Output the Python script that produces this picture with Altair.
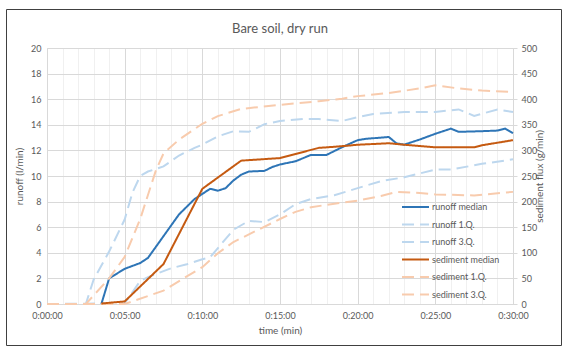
import altair as alt
import pandas as pd

# ---- data (time in minutes) ----
runoff_median_t = [3.5, 4.0, 5.0, 6.0, 6.5, 7.5, 8.5, 9.5, 10.0, 10.5, 11.0, 11.5, 12.0, 12.5, 13.0,
                   14.0, 14.5, 15.0, 16.0, 17.0, 18.0, 19.0, 20.0, 20.5, 22.0, 22.5, 23.0, 24.0,
                   25.0, 26.0, 26.5, 28.0, 29.0, 29.5, 30.0]
runoff_median_v = [0.0, 2.0, 2.75, 3.2, 3.6, 5.3, 7.0, 8.2, 8.6, 9.0, 8.85, 9.05, 9.65, 10.1, 10.35,
                   10.4, 10.7, 10.9, 11.15, 11.65, 11.65, 12.25, 12.8, 12.9, 13.05, 12.55, 12.45, 12.85,
                   13.3, 13.7, 13.45, 13.5, 13.55, 13.7, 13.35]

runoff_q1_t = [0.0, 5.0, 6.0, 6.5, 8.0, 9.0, 10.0, 10.5, 12.0, 13.0, 14.0, 15.0, 16.0, 17.0, 18.5,
               20.0, 21.5, 23.0, 25.0, 26.0, 28.0, 30.0]
runoff_q1_v = [0.0, 0.05, 1.8, 2.1, 2.8, 3.1, 3.5, 3.65, 5.8, 6.5, 6.4, 7.0, 7.8, 8.2, 8.5,
               9.05, 9.6, 9.9, 10.5, 10.5, 10.95, 11.3]

runoff_q3_t = [0.0, 2.5, 3.0, 4.0, 5.0, 5.5, 6.0, 6.5, 7.0, 7.5, 8.5, 9.5, 10.0, 11.0, 12.0, 13.0,
               14.0, 15.0, 16.5, 17.5, 19.0, 20.0, 21.0, 23.0, 25.0, 26.5, 27.5, 29.0, 30.0]
runoff_q3_v = [0.0, 0.0, 1.9, 4.1, 6.6, 8.7, 10.0, 10.35, 10.55, 10.75, 11.6, 12.2, 12.45, 13.1, 13.5, 13.45,
               14.05, 14.3, 14.45, 14.45, 14.3, 14.6, 14.85, 15.0, 15.0, 15.2, 14.7, 15.2, 15.0]

sed_median_t = [3.5, 5.0, 7.5, 10.0, 12.5, 15.0, 16.0, 17.5, 18.5, 20.0, 22.0, 23.0, 25.0, 27.5, 28.0, 30.0]
sed_median_v = [1, 5, 78, 225, 280, 285, 293, 305, 307, 311, 314, 311, 306, 306, 310, 320]

sed_q1_t = [0.0, 5.0, 7.5, 9.0, 10.0, 11.0, 12.0, 13.0, 15.0, 16.0, 17.0, 18.5, 20.0, 21.5, 22.5,
            24.0, 25.0, 27.5, 30.0]
sed_q1_v = [0, 0, 26, 54, 72, 99, 121, 136, 166, 180, 189, 196, 202, 211, 219, 217, 214, 212, 219]

sed_q3_t = [0.0, 2.5, 4.0, 5.0, 6.0, 7.0, 7.5, 8.5, 10.0, 11.0, 12.5, 15.0, 17.5, 19.0, 20.0, 22.0,
            24.0, 25.0, 26.5, 28.0, 30.0]
sed_q3_v = [0, 0, 50, 92, 166, 260, 294, 321, 352, 367, 381, 389, 396, 401, 406, 412,
            421, 427, 421, 417, 414]

names = ["runoff median", "runoff 1.Q.", "runoff 3.Q.", "sediment median", "sediment 1.Q.", "sediment 3.Q."]
colors = ["#2E75B6", "#BDD7EE", "#BDD7EE", "#C55A11", "#F8CBAD", "#F8CBAD"]
dashes = [[1, 0], [12, 6], [12, 6], [1, 0], [12, 6], [12, 6]]

x_major_ticks = [0, 5, 10, 15, 20, 25, 30]
x_minor_ticks = [m for m in range(1, 30) if m % 5 != 0]
y_left_ticks = list(range(0, 21, 2))
y_right_ticks = list(range(0, 501, 50))


def frame(name, ts, vs):
    return pd.DataFrame({"t": ts, "value": vs, "series": name})


runoff_med = frame(names[0], runoff_median_t, runoff_median_v)
runoff_q = pd.concat([frame(names[1], runoff_q1_t, runoff_q1_v), frame(names[2], runoff_q3_t, runoff_q3_v)])
sed_med = frame(names[3], sed_median_t, sed_median_v)
sed_q = pd.concat([frame(names[4], sed_q1_t, sed_q1_v), frame(names[5], sed_q3_t, sed_q3_v)])

FONT = "Lato"
GREY = "#595959"
xscale = alt.Scale(domain=[0, 30], nice=False, zero=True)

legend = alt.Legend(orient="none", legendX=354, legendY=153, title=None, symbolType="stroke",
                    symbolSize=729, symbolStrokeWidth=2, labelFont=FONT, labelFontSize=9,
                    labelColor=GREY, rowPadding=5.5, clipHeight=12, labelOffset=2)
color = alt.Color("series:N", scale=alt.Scale(domain=names, range=colors), legend=legend)
dash = alt.StrokeDash("series:N", scale=alt.Scale(domain=names, range=dashes), legend=legend)

x_major = alt.X("t:Q", scale=xscale,
                axis=alt.Axis(values=x_major_ticks,
                              labelExpr="'0:' + (datum.value < 10 ? '0' : '') + datum.value + ':00'",
                              title="time (min)", grid=True, gridColor="#d9d9d9", domain=False,
                              ticks=False, labelFlush=False, labelFont=FONT, labelFontSize=9,
                              labelColor=GREY, labelPadding=7, titleFont=FONT, titleFontSize=10,
                              titleColor=GREY, titleFontWeight="normal", titlePadding=5))
x_minor = alt.X("t:Q", scale=xscale,
                axis=alt.Axis(orient="top", values=x_minor_ticks, labels=False, ticks=False,
                              domain=False, grid=True, gridColor="#f0f0f0", title=None))

y_left = alt.Y("value:Q", scale=alt.Scale(domain=[0, 20], nice=False),
               axis=alt.Axis(values=y_left_ticks, grid=True, gridColor="#d9d9d9", domain=False,
                             ticks=False, labelFont=FONT, labelFontSize=9, labelColor=GREY,
                             labelPadding=6, title="runoff (l/min)", titleFont=FONT,
                             titleFontSize=10, titleColor=GREY, titleFontWeight="normal",
                             titlePadding=6))
y_right = alt.Y("value:Q", scale=alt.Scale(domain=[0, 500], nice=False),
                axis=alt.Axis(orient="right", values=y_right_ticks, grid=False, domain=True,
                              domainColor="#d9d9d9", ticks=True, tickSize=4, tickColor="#d9d9d9",
                              labelFont=FONT, labelFontSize=9, labelColor=GREY, labelPadding=4,
                              title="sediment flux (g/min)", titleAngle=270, titleFont=FONT,
                              titleFontSize=10, titleColor=GREY, titleFontWeight="normal",
                              titlePadding=8))

enc_r = dict(x=x_major, y=y_left, color=color, strokeDash=dash, detail="series:N")
enc_s = dict(x=x_minor, y=y_right, color=color, strokeDash=dash, detail="series:N")

runoff = alt.layer(
    alt.Chart(runoff_q).mark_line(strokeWidth=2).encode(**enc_r),
    alt.Chart(runoff_med).mark_line(strokeWidth=2).encode(**enc_r),
)
sediment = alt.layer(
    alt.Chart(sed_q).mark_line(strokeWidth=2).encode(**enc_s),
    alt.Chart(sed_med).mark_line(strokeWidth=2).encode(**enc_s),
)

border = alt.Chart(pd.DataFrame({"a": [0]})).mark_rect(fill="transparent", stroke="#404040",
                                                         strokeWidth=1).encode(
    x=alt.value(-40.5), x2=alt.value(514.5), y=alt.value(-38.5), y2=alt.value(297.5))

chart = alt.layer(runoff, sediment, border).resolve_scale(y="independent").resolve_axis(
    x="independent", y="independent").properties(
    width=466, height=256,
    title=alt.TitleParams("Bare soil, dry run", font=FONT, fontSize=13, color=GREY,
                          fontWeight="normal", anchor="middle", frame="group", offset=-27),
    autosize=alt.AutoSizeParams(type="none"),
    padding={"left": 47, "top": 48, "right": 49, "bottom": 43},
).configure_view(stroke="transparent").configure(background="white")

chart.save("out.html", embed_options={"renderer": "svg", "actions": False})
